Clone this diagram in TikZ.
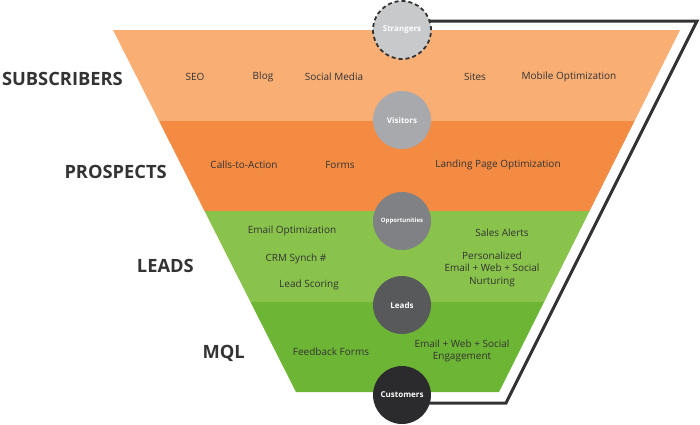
\documentclass[tikz,border=0pt]{standalone}
\usepackage{fontspec}
\setmainfont{Open Sans}
\definecolor{bandA}{HTML}{F9AE74}
\definecolor{bandB}{HTML}{F48B42}
\definecolor{bandC}{HTML}{89C34B}
\definecolor{bandD}{HTML}{6DB534}
\definecolor{txt}{HTML}{333333}
\definecolor{cirA}{HTML}{C8C9CB}
\definecolor{cirB}{HTML}{A7A9AC}
\definecolor{cirC}{HTML}{808184}
\definecolor{cirD}{HTML}{58595B}
\definecolor{cirE}{HTML}{2B2B2D}
\tikzset{
  item/.style={text=txt, font=\fontsize{10}{12.5}\selectfont, align=center, inner sep=0pt},
  stage/.style={text=txt, font=\fontsize{18.3}{22}\selectfont\bfseries, anchor=east, inner sep=0pt},
  ball/.style={circle, minimum size=58pt, inner sep=0pt, text=white, font=\fontsize{8}{9}\selectfont\bfseries},
  rim/.style={draw=txt, line width=3pt, line join=miter}
}
\begin{document}
\begin{tikzpicture}[x=1pt,y=-1pt]
\useasboundingbox (0,0) rectangle (700,424);
% funnel bands
\fill[bandA] (113,30) -- (680,30) -- (634.5,121) -- (159,121) -- cycle;
\fill[bandB] (159,121) -- (634.5,121) -- (589.5,211) -- (204.5,211) -- cycle;
\fill[bandC] (204.5,211) -- (589.5,211) -- (544,302) -- (250.5,302) -- cycle;
\fill[bandD] (250.5,302) -- (544,302) -- (499,392) -- (296,392) -- cycle;
% stage labels
\node[stage] (subs) at (123,79) {SUBSCRIBERS};
\node[stage] (pros) at (167,172) {PROSPECTS};
\node[stage] (lead) at (194,266) {LEADS};
\node[stage] (mql) at (245,353) {MQL};
% items
\node[item] (seo) at (195,77) {SEO};
\node[item] (blog) at (263,77) {Blog};
\node[item] (social) at (334,77) {Social Media};
\node[item] (sites) at (475,77) {Sites};
\node[item] (mobile) at (569,77) {Mobile Optimization};
\node[item] (cta) at (244,165) {Calls-to-Action};
\node[item] (forms) at (340,165) {Forms};
\node[item] (landing) at (498,165) {Landing Page Optimization};
\node[item] (emailopt) at (292,231) {Email Optimization};
\node[item] (crm) at (296,259) {CRM Synch \#};
\node[item] (scoring) at (309,285) {Lead Scoring};
\node[item] (alerts) at (502,233) {Sales Alerts};
\node[item] (nurture) at (492,269) {Personalized\\Email + Web + Social\\Nurturing};
\node[item] (feedback) at (331,352) {Feedback Forms};
\node[item] (engage) at (462,351) {Email + Web + Social\\Engagement};
% outline path
\coordinate (tr) at (697,21);
\coordinate (br) at (506,403);
\coordinate (st) at (402,21);
\coordinate (cu) at (402,403);
\draw[rim] (st) -- (tr) -- (br) -- (cu);
% circles
\node[ball, fill=cirA, draw=txt, line width=1.8pt, dash pattern=on 4pt off 3pt] (strangers) at (402,30) {Strangers};
\node[ball, fill=cirB] (visitors) at (402,120) {Visitors};
\node[ball, fill=cirC, font=\fontsize{6}{7}\selectfont\bfseries] (opps) at (402,221) {Opportunities};
\node[ball, fill=cirD] (leads) at (402,305) {Leads};
\node[ball, fill=cirE] (customers) at (402,395) {Customers};
\end{tikzpicture}
\end{document}
